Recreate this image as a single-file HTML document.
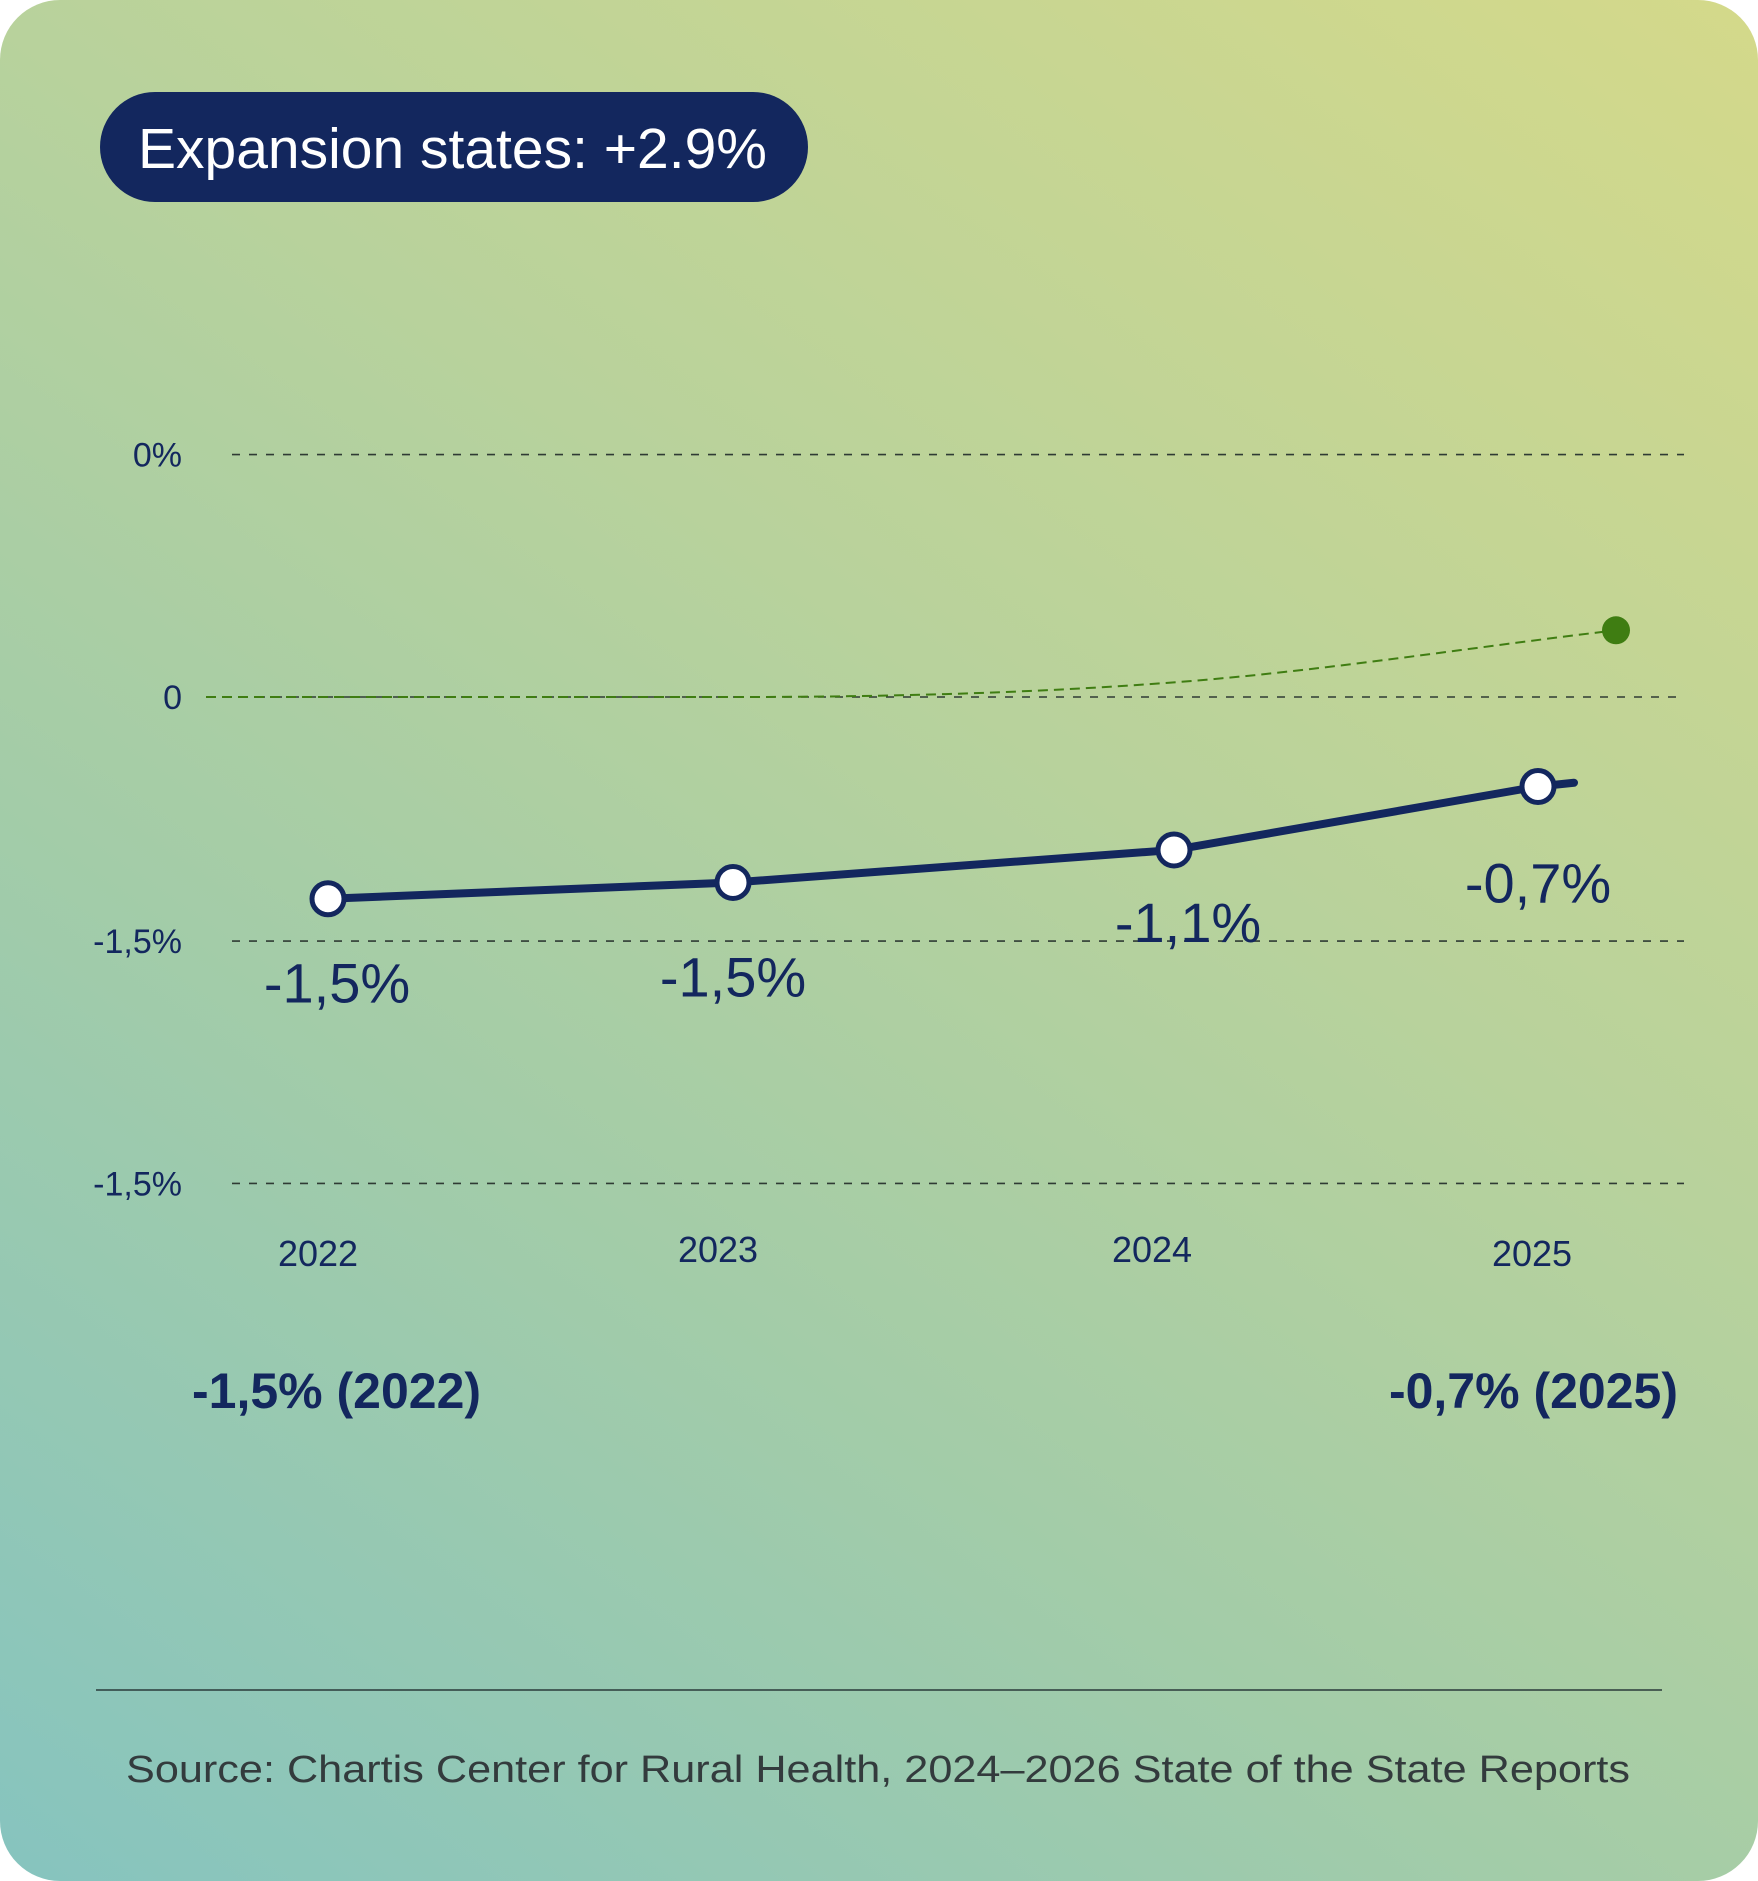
<!DOCTYPE html>
<html><head><meta charset="utf-8"><style>
html,body{margin:0;padding:0;background:#fff;}
#card{position:absolute;left:0;top:0;width:1758px;height:1881px;border-radius:60px;overflow:hidden;
background:linear-gradient(35deg,#86c4bf 0%,#a3cca8 35%,#b8d29c 60%,#d4d98a 100%);}
svg{position:absolute;left:0;top:0;}
text{font-family:"Liberation Sans",sans-serif;}
</style></head><body>
<div id="card">
<svg id="chart" width="1758" height="1881">
  <rect x="100" y="92" width="708" height="110" rx="55" fill="#13275e"/>
  <text x="138" y="168" font-size="57" fill="#fff">Expansion states: +2.9%</text>
  <g id="grid"></g><g id="series"></g><g id="labels"></g>
  <text x="192" y="1408" font-size="50" font-weight="bold" fill="#13275e">-1,5% (2022)</text>
  <text x="1678" y="1408" font-size="50" font-weight="bold" fill="#13275e" text-anchor="end">-0,7% (2025)</text>
  <line x1="96" y1="1690" x2="1662" y2="1690" stroke="#2a3a3a" stroke-width="1.5"/>
  <text x="126" y="1782" font-size="38" fill="#333b3d" textLength="1504" lengthAdjust="spacingAndGlyphs">Source: Chartis Center for Rural Health, 2024–2026 State of the State Reports</text>
</svg>
</div>
<script>
const years = ["2022","2023","2024","2025"];
const values = [-1.24, -1.14, -0.94, -0.55];
const valueLabels = ["-1,5%","-1,5%","-1,1%","-0,7%"];
const expansion = [0, 0, 0.09, 0.41];
const tickValues = [1.49, 0, -1.5, -2.99];
const tickLabels = ["0%","0","-1,5%","-1,5%"];
const NS="http://www.sveg.org".replace("sveg","w3")+"/2000/svg";
const xPos=[328,733,1174,1538];
function x(i){return xPos[i];}
function y(v){return 697-v*162.7;}
function mk(tag,attrs,parent){const e=document.createElementNS(NS,tag);for(const k in attrs)e.setAttribute(k,attrs[k]);parent.appendChild(e);return e;}
const grid=document.getElementById('grid'),ser=document.getElementById('series'),lab=document.getElementById('labels');
tickValues.forEach((v,i)=>{
  const l=mk('line',{x1:i===1?206:232,x2:1684,y1:y(v),y2:y(v),stroke:'#2f3b34','stroke-width':1.6,'stroke-dasharray':'8 9'},grid);
  
  
  const t=mk('text',{x:182,y:y(v)+12,'font-size':34,fill:'#13275e','text-anchor':'end'},grid);
  t.textContent=tickLabels[i];
  
  
});
// expansion dashed curve (monotone cubic through data points)
const ex=[206,x(1),x(2),1616];
const ey=expansion.map(y);
const n=ex.length, sl=[], m=[];
for(let i=0;i<n-1;i++) sl.push((ey[i+1]-ey[i])/(ex[i+1]-ex[i]));
m[0]=sl[0]; m[n-1]=sl[n-2];
for(let i=1;i<n-1;i++){ m[i]=(sl[i-1]*sl[i]<=0)?0:(sl[i-1]+sl[i])/2; }
let d='M'+ex[0]+','+ey[0];
for(let i=0;i<n-1;i++){const h=(ex[i+1]-ex[i])/3;
  d+=' C'+(ex[i]+h)+','+(ey[i]+m[i]*h)+' '+(ex[i+1]-h)+','+(ey[i+1]-m[i+1]*h)+' '+ex[i+1]+','+ey[i+1];}
const ep=mk('path',{d:d,fill:'none',stroke:'#3f7d12','stroke-width':2,'stroke-dasharray':'10 6'},ser);


const ed=mk('circle',{cx:1616,cy:ey[3],r:14,fill:'#3f7d12'},ser);


// main line
let pts=values.map((v,i)=>x(i)+','+y(v));
const lastSlope=(y(values[3])-y(values[2]))/(x(3)-x(2));
pts.push((x(3)+36)+','+(y(values[3])+36*lastSlope*0.6));
const pl=mk('polyline',{points:pts.join(' '),fill:'none',stroke:'#13275e','stroke-width':8,'stroke-linecap':'round','stroke-linejoin':'round'},ser);


const lblDy=[104,114,92,116];
values.forEach((v,i)=>{
  const c=mk('circle',{cx:x(i),cy:y(v),r:16,fill:'#fff',stroke:'#13275e','stroke-width':5},ser);
  
  
  const t=mk('text',{x:x(i)+(i===0?9:(i===2?14:0)),y:y(v)+lblDy[i],'font-size':56,fill:'#13275e','text-anchor':'middle'},lab);
  t.textContent=valueLabels[i];
  
  
  const yl=mk('text',{x:[318,718,1152,1532][i],y:(i===0||i===3)?1266:1262,'font-size':36,fill:'#13275e','text-anchor':'middle'},lab);
  yl.textContent=years[i];
  
  
});
</script>
</body></html>
